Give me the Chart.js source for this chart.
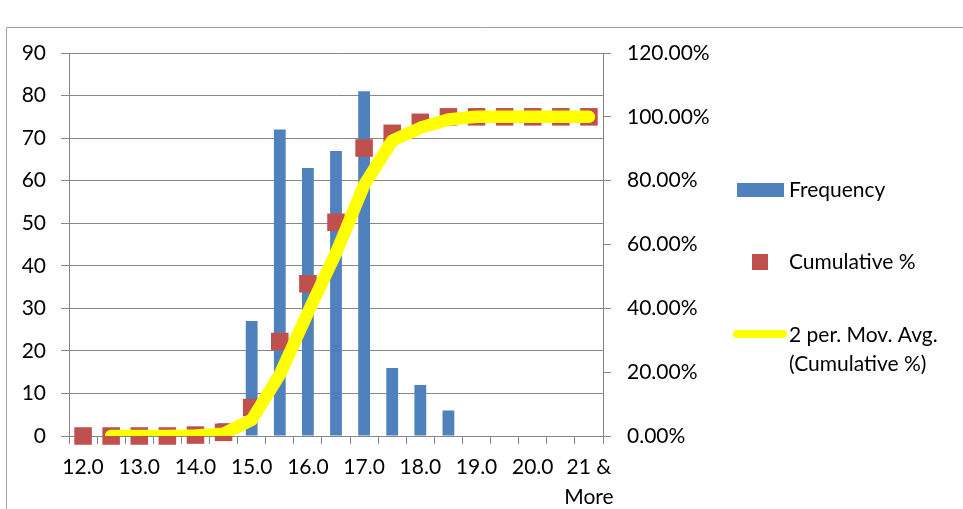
<!DOCTYPE html>
<html>
<head>
<meta charset="utf-8">
<script src="https://cdn.jsdelivr.net/npm/chart.js@4.4.1/dist/chart.umd.min.js"></script>
<style>
  html, body { margin: 0; padding: 0; background: #ffffff; }
  canvas { display: block; }
</style>
</head>
<body>
<canvas id="chart" width="963" height="509"></canvas>
<script>
// Histogram bins (upper edges) and their counts
const bins = ['12.0', '12.5', '13.0', '13.5', '14.0', '14.5', '15.0', '15.5', '16.0', '16.5',
              '17.0', '17.5', '18.0', '18.5', '19.0', '19.5', '20.0', '20.5', ['21 &', 'More']];
const frequency = [0, 0, 0, 0, 1, 3, 27, 72, 63, 67, 81, 16, 12, 6, 0, 0, 0, 0, 0];
// Cumulative share of observations, in percent
const cumulativePct = [0, 0, 0, 0, 0.29, 1.15, 8.91, 29.60, 47.70, 66.95, 90.23, 94.83, 98.28,
                       100, 100, 100, 100, 100, 100];
// Two-period moving average of the cumulative percentage
const movingAvgPct = [null, 0, 0, 0, 0.14, 0.72, 5.03, 19.25, 38.65, 57.33, 78.59, 92.53, 96.55,
                      99.14, 100, 100, 100, 100, 100];
// Axis ticks
const countTicks = [0, 10, 20, 30, 40, 50, 60, 70, 80, 90];
const pctTicks = [0, 20, 40, 60, 80, 100, 120];
const pctTickLabels = ['0.00%', '20.00%', '40.00%', '60.00%', '80.00%', '100.00%', '120.00%'];
// Legend entries
const legendLines = [['Frequency'], ['Cumulative %'], ['2 per. Mov. Avg.', '(Cumulative %)']];

const BAR_BLUE = '#4F81BD';
const MARK_RED = '#C0504D';
const AVG_YELLOW = '#FFFF00';
const GRID = '#878787';
const FONT = 'Lato, "Liberation Sans", sans-serif';

// Thin frame around the whole chart object
const framePlugin = {
  id: 'frame',
  beforeDraw(chart) {
    const ctx = chart.ctx;
    ctx.save();
    ctx.strokeStyle = '#a0a0a0';
    ctx.lineWidth = 1;
    ctx.beginPath();
    ctx.moveTo(6.5, 1000);
    ctx.lineTo(6.5, 27.5);
    ctx.lineTo(1000, 27.5);
    ctx.stroke();
    ctx.restore();
  }
};

// Legend drawn to the right of the secondary axis
const sideLegend = {
  id: 'sideLegend',
  afterDraw(chart) {
    const ctx = chart.ctx;
    const ds = chart.data.datasets;
    ctx.save();
    ctx.font = '21px ' + FONT;
    ctx.textAlign = 'left';
    ctx.textBaseline = 'middle';

    // Frequency
    ctx.fillStyle = ds[2].backgroundColor;
    ctx.fillRect(737, 183, 47, 14);
    ctx.fillStyle = '#000';
    ctx.fillText(legendLines[0][0], 789, 190);

    // Cumulative %
    ctx.fillStyle = ds[1].pointBackgroundColor;
    ctx.fillRect(752, 254, 16, 16);
    ctx.fillStyle = '#000';
    ctx.fillText(legendLines[1][0], 789, 262);

    // Moving average
    ctx.strokeStyle = ds[0].borderColor;
    ctx.lineWidth = 8;
    ctx.lineCap = 'round';
    ctx.beginPath();
    ctx.moveTo(737, 334);
    ctx.lineTo(783, 334);
    ctx.stroke();
    ctx.fillStyle = '#000';
    ctx.fillText(legendLines[2][0], 789, 335);
    ctx.fillText(legendLines[2][1], 789, 364);
    ctx.restore();
  }
};

new Chart(document.getElementById('chart'), {
  data: {
    labels: bins,
    datasets: [
      {
        type: 'line',
        label: legendLines[2].join(' '),
        data: movingAvgPct,
        yAxisID: 'y1',
        borderColor: AVG_YELLOW,
        borderWidth: 12.5,
        borderJoinStyle: 'round',
        borderCapStyle: 'round',
        pointRadius: 0,
        tension: 0,
        spanGaps: false,
        clip: 0,
        order: 0
      },
      {
        type: 'line',
        label: legendLines[1][0],
        data: cumulativePct,
        yAxisID: 'y1',
        showLine: false,
        pointStyle: 'rect',
        pointRadius: 12.4,
        pointBackgroundColor: MARK_RED,
        pointBorderColor: MARK_RED,
        pointBorderWidth: 0,
        clip: false,
        order: 1
      },
      {
        type: 'bar',
        label: legendLines[0][0],
        data: frequency,
        yAxisID: 'y',
        backgroundColor: BAR_BLUE,
        categoryPercentage: 1,
        barPercentage: 0.42,
        order: 2
      }
    ]
  },
  options: {
    responsive: false,
    animation: false,
    devicePixelRatio: 1,
    layout: { padding: { top: 53, left: 0, right: 0, bottom: 0 } },
    plugins: {
      legend: { display: false },
      tooltip: { enabled: false }
    },
    scales: {
      x: {
        offset: true,
        grid: {
          offset: true,
          drawOnChartArea: false,
          drawTicks: true,
          tickLength: 8,
          color: GRID,
          tickColor: GRID
        },
        border: { display: true, color: GRID, width: 1 },
        ticks: {
          autoSkip: false,
          maxRotation: 0,
          minRotation: 0,
          padding: 9,
          color: '#000',
          font: { family: FONT, size: 21, lineHeight: 1.4 },
          callback: function (value, index) {
            return index % 2 === 0 ? bins[index] : '';
          }
        },
        afterFit(scale) { scale.height = 73; }
      },
      y: {
        position: 'left',
        min: 0,
        max: 90,
        grid: {
          color: GRID,
          tickColor: GRID,
          tickLength: 8,
          drawTicks: true
        },
        border: { display: true, color: GRID, width: 1 },
        ticks: {
          padding: 15,
          color: '#000',
          font: { family: FONT, size: 21 }
        },
        afterBuildTicks(scale) { scale.ticks = countTicks.map(v => ({ value: v })); },
        afterFit(scale) { scale.width = 69; }
      },
      y1: {
        position: 'right',
        min: 0,
        max: 120,
        grid: {
          drawOnChartArea: false,
          color: GRID,
          tickColor: GRID,
          tickLength: 8,
          drawTicks: true
        },
        border: { display: true, color: GRID, width: 1 },
        ticks: {
          padding: 16,
          color: '#000',
          font: { family: FONT, size: 21 },
          callback: function (value, index) { return pctTickLabels[index]; }
        },
        afterBuildTicks(scale) { scale.ticks = pctTicks.map(v => ({ value: v })); },
        afterFit(scale) { scale.width = 360; }
      }
    }
  },
  plugins: [framePlugin, sideLegend]
});
</script>
</body>
</html>
